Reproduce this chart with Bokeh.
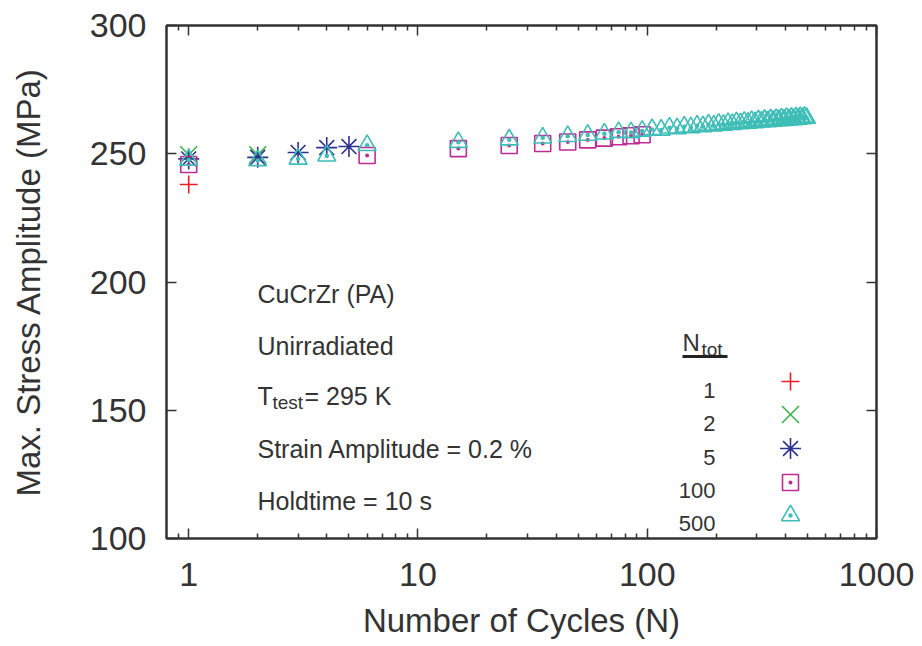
from bokeh.plotting import figure
from bokeh.models import FixedTicker, LinearAxis, LogAxis, Range1d, LinearScale, CustomJSTickFormatter
from bokeh.core.properties import value
from bokeh.embed import file_html
from bokeh.resources import INLINE

# ---------------- data ----------------
cyc_1 = [1]
amp_1 = [238.0]

cyc_2 = [1, 2]
amp_2 = [249.6, 249.6]

cyc_5 = [1, 2, 3, 4, 5]
amp_5 = [248.0, 248.6, 250.5, 252.4, 252.8]

cyc_100 = [1, 6, 15, 25, 35, 45, 55, 65, 75, 85, 95]
amp_100 = [245.8, 249.3, 252.0, 253.2, 254.0, 254.6, 255.4, 256.1, 256.6, 257.0, 257.4]

cyc_500 = [1, 2, 3, 4, 6, 15, 25, 35, 45, 55, 65, 75, 85, 95,
           105, 115, 125, 135, 145, 155, 165, 175, 185, 195,
           205, 215, 225, 235, 245, 255, 265, 275, 285, 295,
           305, 315, 325, 335, 345, 355, 365, 375, 385, 395,
           405, 415, 425, 435, 445, 455, 465, 475, 485, 495]
amp_500 = [247.6, 247.4, 248.0, 249.2, 253.3, 254.5, 255.5, 256.2, 256.8, 257.3, 257.8, 258.4, 258.3, 258.9,
           259.5, 259.3, 260.1, 259.8, 260.5, 260.2, 260.9, 260.6, 261.3, 260.9,
           261.6, 261.2, 261.9, 261.5, 262.2, 261.8, 262.4, 262.0, 262.7, 262.2,
           262.9, 262.5, 263.1, 262.6, 263.3, 262.8, 263.4, 263.0, 263.6, 263.1,
           263.8, 263.3, 263.9, 263.4, 264.1, 263.5, 264.2, 263.7, 264.3, 263.9]

series_names = ["1", "2", "5", "100", "500"]
series_markers = ["cross", "x", "asterisk", "square_dot", "triangle_dot"]
series_colors = ["#ed1c24", "#3ab54a", "#2e3192", "#bd2d93", "#3fbdb7"]
series_sizes = [18, 24, 21, 16, 18]
series_x = [cyc_1, cyc_2, cyc_5, cyc_100, cyc_500]
series_y = [amp_1, amp_2, amp_5, amp_100, amp_500]

x_ticks = [1, 10, 100, 1000]
x_tick_labels = ["1", "10", "100", "1000"]
x_minor = [0.9, 2, 3, 4, 5, 6, 7, 8, 9, 20, 30, 40, 50, 60, 70, 80, 90,
           200, 300, 400, 500, 600, 700, 800, 900]
y_ticks = [100, 150, 200, 250, 300]

info_lines = ["CuCrZr (PA)", "Unirradiated", "Strain Amplitude = 0.2 %", "Holdtime = 10 s"]

FONT = "Liberation Sans"
TXT = "#333333"

p = figure(width=922, height=646, x_axis_type="log",
           x_range=Range1d(0.8, 1000), y_range=Range1d(100, 300),
           output_backend="svg", toolbar_location=None,
           min_border_left=166, min_border_right=46,
           min_border_top=25, min_border_bottom=108,
           background_fill_color="white", border_fill_color="white")
p.grid.visible = False
p.outline_line_color = "#333333"
p.outline_line_width = 2

# layout coordinate system in pixels (for annotations / legend only)
p.extra_x_ranges = {"px": Range1d(166, 876)}
p.extra_x_scales = {"px": LinearScale()}
p.extra_y_ranges = {"px": Range1d(538, 25)}


def style_axis(ax, labels=True):
    ax.major_tick_in = 10
    ax.major_tick_out = 0
    ax.minor_tick_in = 5
    ax.minor_tick_out = 0
    ax.axis_line_color = "#333333"
    ax.axis_line_width = 2
    ax.major_tick_line_color = "#333333"
    ax.major_tick_line_width = 1.5
    ax.minor_tick_line_color = "#333333"
    ax.minor_tick_line_width = 1.5
    ax.major_label_text_font = FONT
    ax.major_label_text_color = TXT
    ax.axis_label_text_font = FONT
    ax.axis_label_text_color = TXT
    ax.axis_label_text_font_style = "normal"
    if not labels:
        ax.formatter = CustomJSTickFormatter(code="return ''")
        ax.major_label_text_font_size = "1px"
        ax.major_label_standoff = 0


xax = p.xaxis[0]
xax.ticker = FixedTicker(ticks=x_ticks, minor_ticks=x_minor)
xax.major_label_overrides = dict(zip(x_ticks, x_tick_labels))
style_axis(xax)
xax.major_label_text_font_size = "34px"
xax.major_label_standoff = 24
xax.axis_label = "Number of Cycles (N)"
xax.axis_label_text_font_size = "33px"
xax.axis_label_standoff = 13

yax = p.yaxis[0]
yax.ticker = FixedTicker(ticks=y_ticks, minor_ticks=[])
style_axis(yax)
yax.major_label_text_font_size = "34px"
yax.major_label_standoff = 20
yax.axis_label = "Max. Stress Amplitude (MPa)"
yax.axis_label_text_font_size = "33px"
yax.axis_label_standoff = 40

top = LogAxis(ticker=FixedTicker(ticks=x_ticks, minor_ticks=x_minor))
style_axis(top, labels=False)
p.add_layout(top, "above")

right = LinearAxis(ticker=FixedTicker(ticks=y_ticks, minor_ticks=[]))
style_axis(right, labels=False)
p.add_layout(right, "right")

# ---------------- data series ----------------
for xs, ys, mk, col, sz in zip(series_x, series_y, series_markers, series_colors, series_sizes):
    p.scatter(xs, ys, marker=mk, size=sz, line_color=col, fill_color=None,
              line_width=1.6)

# ---------------- info text ----------------
info_x = 257
info_base = [293, 345, 448, 500]
for t, yb in zip(info_lines, info_base):
    p.text(x=[info_x], y=[yb], text=[t], x_range_name="px", y_range_name="px",
           text_font=value(FONT), text_font_size="25px", text_color=TXT,
           text_baseline="alphabetic", text_align="left")
p.text(x=[info_x], y=[395], text=["T"], x_range_name="px", y_range_name="px",
       text_font=value(FONT), text_font_size="25px", text_color=TXT,
       text_baseline="alphabetic", text_align="left")
p.text(x=[info_x + 15], y=[402], text=["test"], x_range_name="px", y_range_name="px",
       text_font=value(FONT), text_font_size="19px", text_color=TXT,
       text_baseline="alphabetic", text_align="left")
p.text(x=[info_x + 47], y=[395], text=["= 295 K"], x_range_name="px", y_range_name="px",
       text_font=value(FONT), text_font_size="25px", text_color=TXT,
       text_baseline="alphabetic", text_align="left")

# ---------------- legend ----------------
p.text(x=[682], y=[342], text=["N"], x_range_name="px", y_range_name="px",
       text_font=value(FONT), text_font_size="24px", text_color=TXT,
       text_baseline="alphabetic", text_align="left")
p.text(x=[701], y=[349], text=["tot"], x_range_name="px", y_range_name="px",
       text_font=value(FONT), text_font_size="19px", text_color=TXT,
       text_baseline="alphabetic", text_align="left")
p.segment(x0=[682], y0=[356], x1=[727], y1=[356], x_range_name="px", y_range_name="px",
          line_color="#222222", line_width=3)

leg_base = [390, 423, 457, 490, 523]
leg_mark = [381, 414, 448, 482, 515]
p.text(x=[715] * 5, y=leg_base, text=series_names, x_range_name="px", y_range_name="px",
       text_font=value(FONT), text_font_size="22px", text_color=TXT,
       text_baseline="alphabetic", text_align="right")
p.scatter(x=[790] * 5, y=leg_mark, marker=series_markers, line_color=series_colors,
          fill_color=None, size=series_sizes, line_width=1.6,
          x_range_name="px", y_range_name="px")

open("out.html", "w").write(file_html(p, INLINE))
